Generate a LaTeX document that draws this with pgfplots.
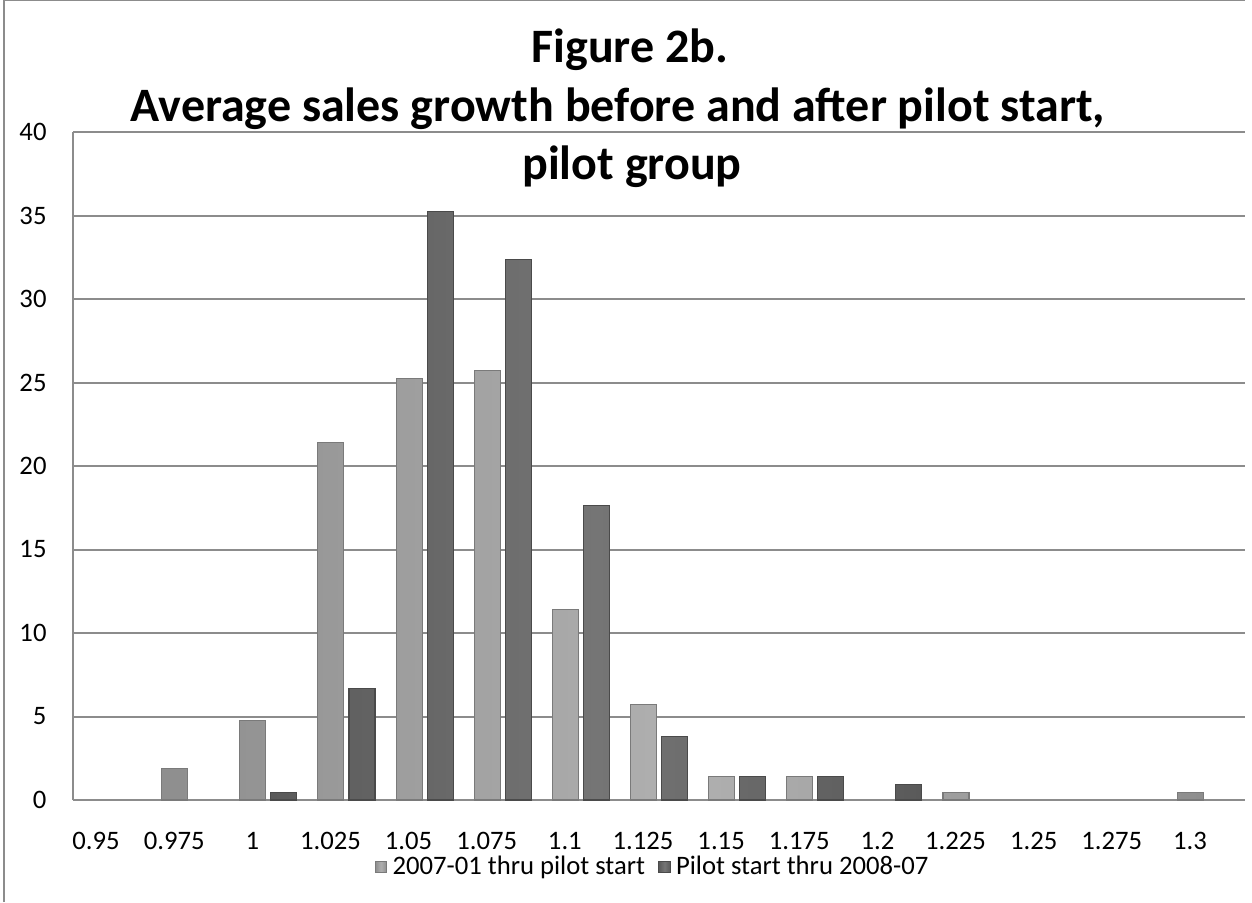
\documentclass[border=0pt]{standalone}
\usepackage{pgfplots}
\pgfplotsset{compat=1.18}
\usepackage{fontspec}
\setmainfont{Carlito}
\definecolor{lightbar}{HTML}{B0B0B0}
\definecolor{lightbarS}{HTML}{8E8E8E}
\definecolor{lightbarE}{HTML}{7A7A7A}
\definecolor{darkbar}{HTML}{757575}
\definecolor{darkbarS}{HTML}{5A5A5A}
\definecolor{darkbarE}{HTML}{4A4A4A}
\definecolor{gridc}{HTML}{8C8C8C}
\begin{document}
\begin{tikzpicture}[x=0.375pt,y=0.375pt]
\path[use as bounding box] (0,0) rectangle (1252,902);
\draw[gridc, line width=0.75pt] (4,0) -- (4,901.6) -- (1245,901.6);
\node[anchor=base, font=\fontsize{18}{22}\selectfont\bfseries] at (630,839) {Figure 2b.};
\node[anchor=base, font=\fontsize{18}{22}\selectfont\bfseries] at (618,780) {Average sales growth before and after pilot start,};
\node[anchor=base, font=\fontsize{18}{22}\selectfont\bfseries] at (632,722) {pilot group};
\begin{axis}[
  at={(27.375pt,38.25pt)}, anchor=south west,
  scale only axis, width=439.5pt, height=250.5pt,
  ymin=0, ymax=40, ytick={0,5,...,40},
  xmin=-0.5, xmax=14.5, xtick={0,...,14},
  xticklabels={0.95,0.975,1,1.025,1.05,1.075,1.1,1.125,1.15,1.175,1.2,1.225,1.25,1.275,1.3},
  axis lines*=left,
  axis line style={gridc, line width=0.75pt},
  ymajorgrids, grid style={gridc, line width=0.75pt},
  major tick length=0pt,
  ybar=1.9pt, bar width=9.75pt,
  /pgf/number format/assume math mode=true,
  tick label style={font=\fontsize{10}{12}\selectfont},
  yticklabel style={xshift=-6.4pt},
  xticklabel style={xshift=-6pt, yshift=-8.6pt},
  legend style={at={(0.496,-0.1005)}, anchor=center, draw=none, fill=none,
    legend columns=2, font=\fontsize{10}{12}\selectfont, inner sep=0pt,
    /tikz/every even column/.append style={column sep=3pt}},
  legend image code/.code={\draw[#1] (0pt,-2.1pt) rectangle (4.2pt,2.1pt);},
]
\addplot[draw=lightbarE, line width=0.4pt, left color=lightbarS, right color=lightbarS, middle color=lightbar]
  coordinates {(1,1.905) (2,4.762) (3,21.429) (4,25.238) (5,25.714) (6,11.429) (7,5.714) (8,1.429) (9,1.429) (11,0.476) (14,0.476)};
\addlegendentry{2007-01 thru pilot start}
\addplot[draw=darkbarE, line width=0.4pt, left color=darkbarS, right color=darkbarS, middle color=darkbar]
  coordinates {(2,0.476) (3,6.667) (4,35.238) (5,32.381) (6,17.619) (7,3.810) (8,1.429) (9,1.429) (10,0.952)};
\addlegendentry{Pilot start thru 2008-07}
\end{axis}
\end{tikzpicture}
\end{document}
